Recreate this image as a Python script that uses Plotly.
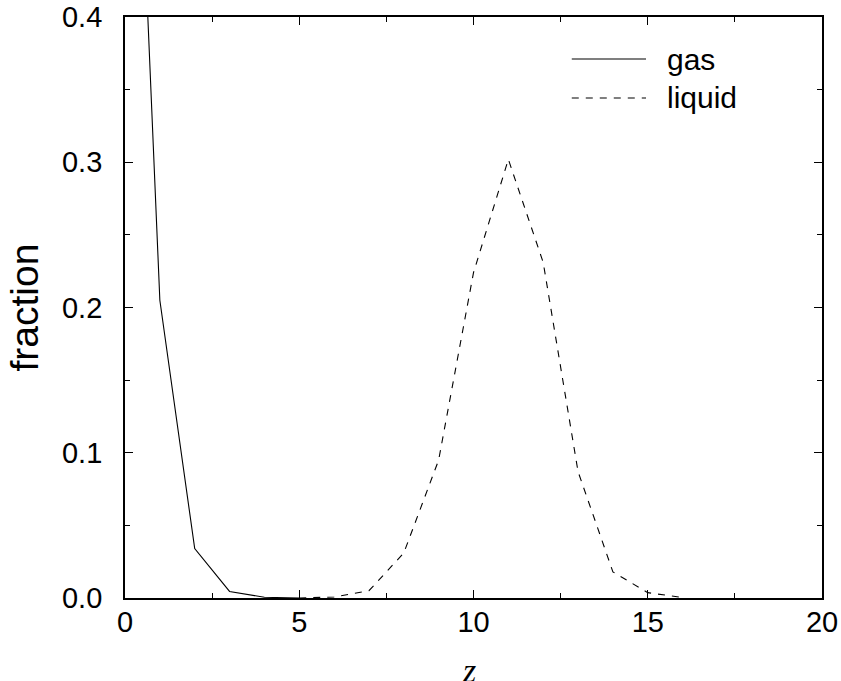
import plotly.graph_objects as go

# data
gas_z = [0, 1, 2, 3, 4, 5]
gas_frac = [0.77, 0.205, 0.034, 0.0045, 0.0005, 0.0]
liq_z = [5, 6, 7, 8, 9, 10, 11, 12, 13, 14, 15, 16]
liq_frac = [0.0, 0.0007, 0.005, 0.031, 0.095, 0.224, 0.302, 0.231, 0.087, 0.018, 0.0037, 0.0003]
x_ticks = [0, 5, 10, 15, 20]
y_ticks = [0.0, 0.1, 0.2, 0.3, 0.4]

fig = go.Figure()
fig.add_trace(go.Scatter(x=gas_z, y=gas_frac, mode="lines", name="gas",
                         line=dict(color="black", width=1.1), showlegend=False))
fig.add_trace(go.Scatter(x=liq_z, y=liq_frac, mode="lines", name="liquid",
                         line=dict(color="black", width=1.1, dash="7px,7px"), showlegend=False))

tickfont = dict(family="Liberation Sans, Arial, sans-serif", size=29, color="black")

fig.update_xaxes(range=[0, 20], tickvals=x_ticks, ticks="inside", ticklen=8, tickwidth=1.2,
                 tickcolor="black", showline=True, linecolor="black", linewidth=1.8,
                 mirror="allticks", showgrid=False, zeroline=False, tickfont=tickfont,
                 ticklabelstandoff=-3, ticklabeloverflow="allow",
                 minor=dict(tickvals=[2.5, 7.5, 12.5, 17.5], ticks="inside", ticklen=5,
                            tickwidth=1.2, tickcolor="black", showgrid=False))
fig.update_yaxes(range=[0, 0.4], tickvals=y_ticks, tickformat=".1f", ticks="inside", ticklen=8,
                 tickwidth=1.2, tickcolor="black", showline=True, linecolor="black",
                 linewidth=1.8, mirror="allticks", showgrid=False, zeroline=False,
                 tickfont=tickfont, ticklabelstandoff=15, ticklabeloverflow="allow",
                 minor=dict(tickvals=[0.05, 0.15, 0.25, 0.35], ticks="inside", ticklen=5,
                            tickwidth=1.2, tickcolor="black", showgrid=False))

# legend drawn manually
leg_x0, leg_x1, leg_tx = 0.641, 0.7475, 0.7747
leg_y = [0.9277, 0.8606]
fig.add_shape(type="line", xref="paper", yref="paper", x0=leg_x0, x1=leg_x1,
              y0=leg_y[0], y1=leg_y[0], line=dict(color="black", width=1.1))
fig.add_shape(type="line", xref="paper", yref="paper", x0=leg_x0, x1=leg_x1,
              y0=leg_y[1], y1=leg_y[1], line=dict(color="black", width=1.1, dash="7px,7px"))
legfont = dict(family="Liberation Sans, Arial, sans-serif", size=30, color="black")
fig.add_annotation(x=leg_tx, y=leg_y[0], xref="paper", yref="paper", text="gas",
                   showarrow=False, xanchor="left", yanchor="middle", font=legfont)
fig.add_annotation(x=leg_tx, y=leg_y[1], xref="paper", yref="paper", text="liquid",
                   showarrow=False, xanchor="left", yanchor="middle", font=legfont)

# axis titles
fig.add_annotation(x=0.4935, y=-0.1256, xref="paper", yref="paper", text="<i>z</i>",
                   showarrow=False, xanchor="center", yanchor="middle",
                   font=dict(family="Liberation Serif, Times New Roman, serif", size=34, color="black"))
fig.add_annotation(x=-0.1435, y=0.5, xref="paper", yref="paper", text="fraction",
                   showarrow=False, xanchor="center", yanchor="middle", textangle=-90,
                   font=dict(family="Liberation Sans, Arial, sans-serif", size=39, color="black"))

fig.update_layout(width=841, height=681, margin=dict(l=125, r=19, t=17, b=83, autoexpand=False),
                  plot_bgcolor="white", paper_bgcolor="white")

fig.write_html("out.html", config={"displayModeBar": False},
               post_script="document.body.style.margin='0';document.body.style.overflow='hidden';")
